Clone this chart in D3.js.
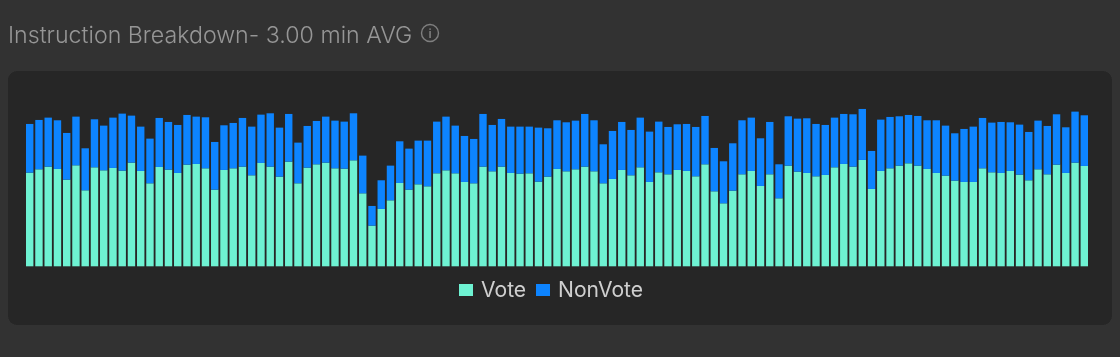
<!DOCTYPE html>
<html><head><meta charset="utf-8">
<script src="https://cdn.jsdelivr.net/npm/d3@7/dist/d3.min.js"></script>
<style>
html,body{margin:0;padding:0;background:#333333;overflow:hidden}
svg{display:block;font-family:Inter,"Noto Sans",sans-serif}
</style></head><body>
<svg id="c" width="1120" height="357"></svg>
<script>
const titleText = "Instruction Breakdown- 3.00 min AVG";
const seriesNames = ["Vote", "NonVote"];
const seriesColors = ["#6ef2d2", "#0a84ff"];
const vote = [
281,291,299,292,260,303,228,297,288,295,287,311,286,249,298,290,280,305,307,294,230,289,294,299,273,310,299,269,
314,249,296,306,311,294,293,318,219,122,172,198,250,230,246,240,279,288,279,253,249,299,285,299,280,278,279,254,269,292,
285,291,299,285,249,262,289,273,297,253,282,276,289,286,270,306,225,189,227,276,286,241,276,204,302,284,280,270,274,297,
307,299,319,232,286,294,302,309,302,292,280,272,257,253,253,294,282,280,286,275,258,291,276,305,280,311,301];
const nonVote = [
146,148,147,146,140,146,126,144,134,151,171,141,133,134,147,143,144,149,142,153,143,134,136,146,146,145,160,147,
143,122,125,130,138,143,141,141,113,59,86,104,125,123,131,137,155,161,143,138,133,158,139,143,139,141,140,162,145,146,
147,146,158,153,117,144,144,136,149,151,152,142,137,141,148,145,130,126,142,162,160,143,157,102,148,159,164,157,150,149,
150,157,153,114,154,154,148,145,149,146,158,150,142,159,166,151,149,153,146,150,145,146,145,151,137,153,152];

const svg = d3.select("#c");
const root = svg.append("g").attr("filter","url(#soft)");
svg.append("defs").append("filter").attr("id","soft")
  .attr("x",0).attr("y",0).attr("width",1).attr("height",1)
  .attr("filterUnits","objectBoundingBox")
  .append("feGaussianBlur").attr("stdDeviation",0.55);

root.append("rect").attr("width",1120).attr("height",357).attr("fill","#333333");
root.append("rect").attr("x",8).attr("y",71).attr("width",1104).attr("height",254).attr("rx",9).attr("fill","#272727");

root.append("text").attr("x",8).attr("y",43).attr("font-size",23.2).attr("font-weight",300)
  .attr("fill","#969696").text(titleText);
const info = root.append("g").attr("transform","translate(430,33)");
info.append("circle").attr("r",8.5).attr("fill","none").attr("stroke","#7f7f7f").attr("stroke-width",1.4);
info.append("text").attr("text-anchor","middle").attr("y",4.5).attr("font-size",12).attr("font-weight",600).attr("fill","#7f7f7f").text("i");

const rows = vote.map((v,i)=>({i, Vote:v, NonVote:nonVote[i]}));
const x = d3.scaleBand().domain(rows.map(d=>d.i)).range([26,1088]).paddingInner(0.2).paddingOuter(0);
const y = d3.scaleLinear().domain([0,480]).range([266.3,106.3]);
const color = d3.scaleOrdinal().domain(seriesNames).range(seriesColors);
const stacked = d3.stack().keys(seriesNames)(rows);

root.append("g").selectAll("g").data(stacked).join("g").attr("fill",s=>color(s.key))
  .selectAll("rect").data(s=>s).join("rect")
  .attr("x",d=>x(d.data.i)).attr("width",x.bandwidth())
  .attr("y",d=>y(d[1])).attr("height",d=>y(d[0])-y(d[1]));

const legend = root.append("g");
const legendX = d3.scaleOrdinal().domain(seriesNames).range([459,536]);
const items = legend.selectAll("g").data(seriesNames).join("g")
  .attr("transform",d=>`translate(${legendX(d)},284)`);
items.append("rect").attr("width",14).attr("height",12).attr("fill",d=>color(d));
items.append("text").attr("x",22).attr("y",13).attr("font-size",21.1).attr("fill","#cfcfcf").text(d=>d);
</script>
</body></html>
